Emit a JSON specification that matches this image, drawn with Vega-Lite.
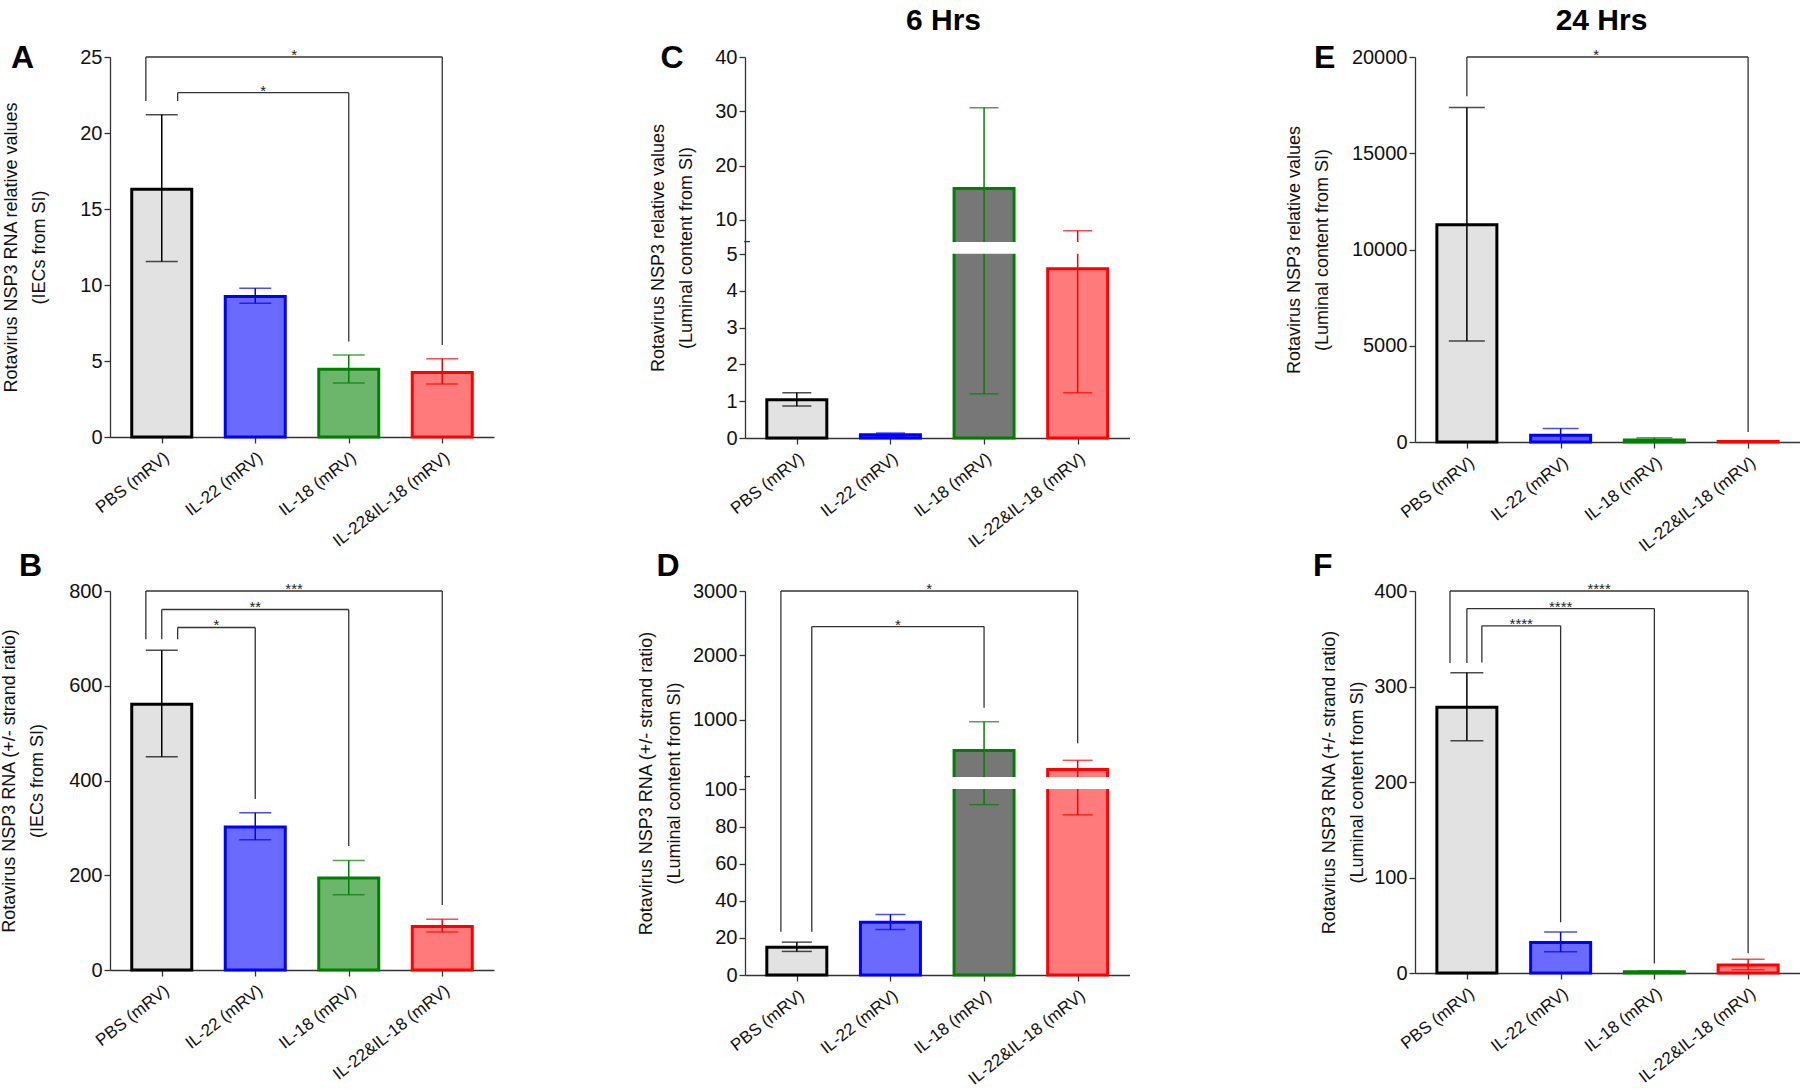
{
 "$schema": "https://vega.github.io/schema/vega-lite/v6.json",
 "background": "white",
 "padding": {"left": 0, "top": 6, "right": 0, "bottom": 5},
 "config": {
  "view": {"stroke": null},
  "font": "Liberation Sans",
  "axis": {"grid": false, "domainColor": "#333333", "tickColor": "#333333", "labelColor": "#111111", "titleColor": "#111111", "labelFont": "Liberation Sans", "titleFont": "Liberation Sans", "titleFontWeight": "normal", "titleFontSize": 18, "titleLineHeight": 28, "titleBaseline": "bottom", "labelFontSize": 20, "tickSize": 6, "domainWidth": 1.3, "tickWidth": 1.3, "labelPadding": 2, "zindex": 0, "labelOverlap": false, "labelFlush": false},
  "axisX": {"labelAngle": -38, "labelFontSize": 17, "labelPadding": 6},
  "title": {"font": "Liberation Sans", "fontWeight": "bold", "fontSize": 30, "color": "#000000"}
 },
 "datasets": {
  "bars": [
   {"panel": "A", "idx": 1, "group": "PBS (mRV)", "mean": 16.3, "lo": 11.55, "hi": 21.2},
   {"panel": "A", "idx": 2, "group": "IL-22 (mRV)", "mean": 9.25, "lo": 8.8, "hi": 9.78},
   {"panel": "A", "idx": 3, "group": "IL-18 (mRV)", "mean": 4.45, "lo": 3.55, "hi": 5.4},
   {"panel": "A", "idx": 4, "group": "IL-22&IL-18 (mRV)", "mean": 4.25, "lo": 3.48, "hi": 5.15},
   {"panel": "B", "idx": 1, "group": "PBS (mRV)", "mean": 561, "lo": 450, "hi": 675},
   {"panel": "B", "idx": 2, "group": "IL-22 (mRV)", "mean": 302, "lo": 275, "hi": 332},
   {"panel": "B", "idx": 3, "group": "IL-18 (mRV)", "mean": 194, "lo": 159, "hi": 231},
   {"panel": "B", "idx": 4, "group": "IL-22&IL-18 (mRV)", "mean": 92, "lo": 80, "hi": 107},
   {"panel": "C", "idx": 1, "group": "PBS (mRV)", "mean": 1.04, "lo": 0.87, "hi": 1.23},
   {"panel": "C", "idx": 2, "group": "IL-22 (mRV)", "mean": 0.087, "lo": 0.05, "hi": 0.135},
   {"panel": "C", "idx": 3, "group": "IL-18 (mRV)", "mean": 15.8, "lo": 1.2, "hi": 30.65},
   {"panel": "C", "idx": 4, "group": "IL-22&IL-18 (mRV)", "mean": 4.6, "lo": 1.23, "hi": 8.0},
   {"panel": "D", "idx": 1, "group": "PBS (mRV)", "mean": 14.9, "lo": 12.7, "hi": 17.7},
   {"panel": "D", "idx": 2, "group": "IL-22 (mRV)", "mean": 28.4, "lo": 24.5, "hi": 32.6},
   {"panel": "D", "idx": 3, "group": "IL-18 (mRV)", "mean": 521, "lo": 91.8, "hi": 968},
   {"panel": "D", "idx": 4, "group": "IL-22&IL-18 (mRV)", "mean": 226, "lo": 86.3, "hi": 368},
   {"panel": "E", "idx": 1, "group": "PBS (mRV)", "mean": 11280, "lo": 5250, "hi": 17380},
   {"panel": "E", "idx": 2, "group": "IL-22 (mRV)", "mean": 350, "lo": 0, "hi": 700},
   {"panel": "E", "idx": 3, "group": "IL-18 (mRV)", "mean": 100, "lo": 0, "hi": 220},
   {"panel": "E", "idx": 4, "group": "IL-22&IL-18 (mRV)", "mean": 25, "lo": 5, "hi": 45},
   {"panel": "F", "idx": 1, "group": "PBS (mRV)", "mean": 278.4, "lo": 243.3, "hi": 314.5},
   {"panel": "F", "idx": 2, "group": "IL-22 (mRV)", "mean": 31.9, "lo": 22.3, "hi": 42.9},
   {"panel": "F", "idx": 3, "group": "IL-18 (mRV)", "mean": 1.4, "lo": 0.7, "hi": 2.2},
   {"panel": "F", "idx": 4, "group": "IL-22&IL-18 (mRV)", "mean": 8.5, "lo": 3.5, "hi": 14.5}
  ],
  "brackets": [
   {"panel": "A", "left": 0.83, "right": 4, "level": 25, "yl": 22.1, "yr": 6.05, "xm": 2.415, "stars": "*"},
   {"panel": "A", "left": 1.17, "right": 3, "level": 22.65, "yl": 22.1, "yr": 6.29, "xm": 2.085, "stars": "*"},
   {"panel": "B", "left": 0.83, "right": 4, "level": 800, "yl": 698, "yr": 137, "xm": 2.415, "stars": "***"},
   {"panel": "B", "left": 1, "right": 3, "level": 761, "yl": 698, "yr": 262, "xm": 2, "stars": "**"},
   {"panel": "B", "left": 1.17, "right": 2, "level": 723, "yl": 698, "yr": 361, "xm": 1.585, "stars": "*"},
   {"panel": "D", "left": 0.83, "right": 4, "level": 3000, "yl": 23.3, "yr": 632, "xm": 2.415, "stars": "*"},
   {"panel": "D", "left": 1.16, "right": 3, "level": 2447, "yl": 23.3, "yr": 1184, "xm": 2.08, "stars": "*"},
   {"panel": "E", "left": 1, "right": 4, "level": 20000, "yl": 17960, "yr": 520, "xm": 2.38, "stars": "*"},
   {"panel": "F", "left": 0.82, "right": 4, "level": 400, "yl": 324.5, "yr": 20.6, "xm": 2.41, "stars": "****"},
   {"panel": "F", "left": 1, "right": 3, "level": 381.6, "yl": 324.5, "yr": 9.9, "xm": 2, "stars": "****"},
   {"panel": "F", "left": 1.16, "right": 2, "level": 363.5, "yl": 325, "yr": 53.2, "xm": 1.58, "stars": "****"}
  ]
 },
 "columns": 3,
 "spacing": {"row": 149, "column": 251},
 "bounds": "flush",
 "align": "each",
 "resolve": {"scale": {"x": "independent", "y": "independent", "fill": "independent", "stroke": "independent", "color": "independent"}},
 "concat": [
  {
   "width": 384, "height": 380,
   "layer": [
    {"data": {"name": "bars"}, "transform": [{"filter": "datum.panel == 'A'"}],
     "mark": {"type": "bar", "width": 60, "strokeWidth": 3, "orient": "vertical"},
     "encoding": {
      "x": {"field": "idx", "type": "quantitative", "scale": {"domain": [0.5, 4.5], "nice": false, "zero": false}, "axis": {"values": [1, 2, 3, 4], "labelExpr": "['', 'PBS (mRV)', 'IL-22 (mRV)', 'IL-18 (mRV)', 'IL-22&IL-18 (mRV)'][datum.value]", "title": null, "labelOverlap": false}},
      "y": {"field": "mean", "type": "quantitative", "scale": {"domain": [0, 25], "nice": false}, "axis": {"values": [0, 5, 10, 15, 20, 25], "format": "d", "labelOverlap": false, "title": ["Rotavirus NSP3 RNA relative values", "(IECs from SI)"], "titleX": -90}},
      "fill": {"field": "group", "type": "nominal", "scale": {"domain": ["PBS (mRV)", "IL-22 (mRV)", "IL-18 (mRV)", "IL-22&IL-18 (mRV)"], "range": ["#e2e2e2", "#6a6aff", "#6cb66c", "#ff7a7a"]}, "legend": null},
      "stroke": {"field": "group", "type": "nominal", "scale": {"domain": ["PBS (mRV)", "IL-22 (mRV)", "IL-18 (mRV)", "IL-22&IL-18 (mRV)"], "range": ["#000000", "#0000ff", "#008000", "#ff0000"]}, "legend": null}}},
    {"data": {"name": "bars"}, "transform": [{"filter": "datum.panel == 'A'"}],
     "mark": {"type": "rule", "strokeWidth": 1.5},
     "encoding": {"x": {"field": "idx", "type": "quantitative"}, "y": {"field": "lo", "type": "quantitative"}, "y2": {"field": "hi"},
      "color": {"field": "group", "type": "nominal", "scale": {"domain": ["PBS (mRV)", "IL-22 (mRV)", "IL-18 (mRV)", "IL-22&IL-18 (mRV)"], "range": ["#000000", "#0000ff", "#008000", "#ff0000"]}, "legend": null}}},
    {"data": {"name": "bars"}, "transform": [{"filter": "datum.panel == 'A'"}],
     "mark": {"type": "tick", "orient": "horizontal", "size": 32, "thickness": 1.5},
     "encoding": {"x": {"field": "idx", "type": "quantitative"}, "y": {"field": "hi", "type": "quantitative"}, "color": {"field": "group", "type": "nominal", "legend": null}}},
    {"data": {"name": "bars"}, "transform": [{"filter": "datum.panel == 'A'"}],
     "mark": {"type": "tick", "orient": "horizontal", "size": 32, "thickness": 1.5},
     "encoding": {"x": {"field": "idx", "type": "quantitative"}, "y": {"field": "lo", "type": "quantitative"}, "color": {"field": "group", "type": "nominal", "legend": null}}},
    {"data": {"name": "brackets"}, "transform": [{"filter": "datum.panel == 'A'"}],
     "mark": {"type": "rule", "color": "#333333", "strokeWidth": 1.3},
     "encoding": {"x": {"field": "left", "type": "quantitative"}, "x2": {"field": "right"}, "y": {"field": "level", "type": "quantitative"}}},
    {"data": {"name": "brackets"}, "transform": [{"filter": "datum.panel == 'A'"}],
     "mark": {"type": "rule", "color": "#333333", "strokeWidth": 1.3},
     "encoding": {"x": {"field": "left", "type": "quantitative"}, "y": {"field": "level", "type": "quantitative"}, "y2": {"field": "yl"}}},
    {"data": {"name": "brackets"}, "transform": [{"filter": "datum.panel == 'A'"}],
     "mark": {"type": "rule", "color": "#333333", "strokeWidth": 1.3},
     "encoding": {"x": {"field": "right", "type": "quantitative"}, "y": {"field": "level", "type": "quantitative"}, "y2": {"field": "yr"}}},
    {"data": {"name": "brackets"}, "transform": [{"filter": "datum.panel == 'A'"}],
     "mark": {"type": "text", "fontSize": 15, "dy": 3, "baseline": "alphabetic", "color": "#222222"},
     "encoding": {"x": {"field": "xm", "type": "quantitative"}, "y": {"field": "level", "type": "quantitative"}, "text": {"field": "stars"}}},
    {"data": {"values": [{}]},
     "mark": {"type": "text", "text": "A", "fontSize": 32, "fontWeight": "bold", "align": "left", "baseline": "alphabetic", "dx": -104, "dy": 11.4, "color": "#000000"},
     "encoding": {"x": {"datum": 0.5}, "y": {"datum": 25}}}
   ]
  },
  {
   "width": 419, "height": 381,
   "title": {"text": "6 Hrs", "anchor": "middle", "frame": "group", "dx": -11, "offset": 6},
   "layer": [
    {"data": {"name": "bars"}, "transform": [{"filter": "datum.panel == 'C'"}],
     "mark": {"type": "bar", "width": 60, "strokeWidth": 3, "orient": "vertical"},
     "encoding": {
      "x": {"field": "idx", "type": "quantitative", "scale": {"domain": [0.5, 4.5], "range": [0, 384.5], "nice": false, "zero": false}, "axis": {"values": [1, 2, 3, 4], "labelExpr": "['', 'PBS (mRV)', 'IL-22 (mRV)', 'IL-18 (mRV)', 'IL-22&IL-18 (mRV)'][datum.value]", "title": null, "labelOverlap": false}},
      "y": {"field": "mean", "type": "quantitative", "scale": {"domain": [0, 5, 6, 40], "range": [381, 197.1, 184.6, 0], "nice": false, "zero": false}, "axis": {"values": [0, 1, 2, 3, 4, 5, 10, 20, 30, 40], "format": "d", "labelOverlap": false, "title": ["Rotavirus NSP3 relative values", "(Luminal content from SI)"], "titleX": -78}},
      "fill": {"field": "group", "type": "nominal", "scale": {"domain": ["PBS (mRV)", "IL-22 (mRV)", "IL-18 (mRV)", "IL-22&IL-18 (mRV)"], "range": ["#e2e2e2", "#6a6aff", "#777777", "#ff7a7a"]}, "legend": null},
      "stroke": {"field": "group", "type": "nominal", "scale": {"domain": ["PBS (mRV)", "IL-22 (mRV)", "IL-18 (mRV)", "IL-22&IL-18 (mRV)"], "range": ["#000000", "#0000ff", "#008000", "#ff0000"]}, "legend": null}}},
    {"data": {"name": "bars"}, "transform": [{"filter": "datum.panel == 'C'"}],
     "mark": {"type": "rule", "strokeWidth": 1.5},
     "encoding": {"x": {"field": "idx", "type": "quantitative"}, "y": {"field": "lo", "type": "quantitative"}, "y2": {"field": "hi"},
      "color": {"field": "group", "type": "nominal", "scale": {"domain": ["PBS (mRV)", "IL-22 (mRV)", "IL-18 (mRV)", "IL-22&IL-18 (mRV)"], "range": ["#000000", "#0000ff", "#008000", "#ff0000"]}, "legend": null}}},
    {"data": {"name": "bars"}, "transform": [{"filter": "datum.panel == 'C'"}],
     "mark": {"type": "tick", "orient": "horizontal", "size": 29, "thickness": 1.5},
     "encoding": {"x": {"field": "idx", "type": "quantitative"}, "y": {"field": "hi", "type": "quantitative"}, "color": {"field": "group", "type": "nominal", "legend": null}}},
    {"data": {"name": "bars"}, "transform": [{"filter": "datum.panel == 'C'"}],
     "mark": {"type": "tick", "orient": "horizontal", "size": 29, "thickness": 1.5},
     "encoding": {"x": {"field": "idx", "type": "quantitative"}, "y": {"field": "lo", "type": "quantitative"}, "color": {"field": "group", "type": "nominal", "legend": null}}},
    {"data": {"values": [{}]},
     "mark": {"type": "rect", "fill": "white"},
     "encoding": {"x": {"datum": 0.47}, "x2": {"datum": 4.5}, "y": {"datum": 5.03}, "y2": {"datum": 5.97}}},
    {"data": {"values": [{}]},
     "mark": {"type": "rule", "color": "#333333", "strokeWidth": 1.3},
     "encoding": {"x": {"datum": 0.4375}, "x2": {"datum": 0.5}, "y": {"datum": 6}}},
    {"data": {"values": [{}]},
     "mark": {"type": "text", "text": "C", "fontSize": 32, "fontWeight": "bold", "align": "left", "baseline": "alphabetic", "dx": -89.5, "dy": 11.4, "color": "#000000"},
     "encoding": {"x": {"datum": 0.5}, "y": {"datum": 40}}}
   ]
  },
  {
   "width": 385, "height": 385,
   "title": {"text": "24 Hrs", "anchor": "middle", "frame": "group", "dx": -6, "offset": 6},
   "layer": [
    {"data": {"name": "bars"}, "transform": [{"filter": "datum.panel == 'E'"}],
     "mark": {"type": "bar", "width": 60, "strokeWidth": 3, "orient": "vertical"},
     "encoding": {
      "x": {"field": "idx", "type": "quantitative", "scale": {"domain": [0.5, 4.5], "nice": false, "zero": false}, "axis": {"values": [1, 2, 3, 4], "labelExpr": "['', 'PBS (mRV)', 'IL-22 (mRV)', 'IL-18 (mRV)', 'IL-22&IL-18 (mRV)'][datum.value]", "title": null, "labelOverlap": false}},
      "y": {"field": "mean", "type": "quantitative", "scale": {"domain": [0, 20000], "nice": false}, "axis": {"values": [0, 5000, 10000, 15000, 20000], "format": "d", "labelOverlap": false, "title": ["Rotavirus NSP3 relative values", "(Luminal content from SI)"], "titleX": -112}},
      "fill": {"field": "group", "type": "nominal", "scale": {"domain": ["PBS (mRV)", "IL-22 (mRV)", "IL-18 (mRV)", "IL-22&IL-18 (mRV)"], "range": ["#e2e2e2", "#5a5aff", "#40a040", "#ff6060"]}, "legend": null},
      "stroke": {"field": "group", "type": "nominal", "scale": {"domain": ["PBS (mRV)", "IL-22 (mRV)", "IL-18 (mRV)", "IL-22&IL-18 (mRV)"], "range": ["#000000", "#0000ff", "#008000", "#ff0000"]}, "legend": null}}},
    {"data": {"name": "bars"}, "transform": [{"filter": "datum.panel == 'E'"}],
     "mark": {"type": "rule", "strokeWidth": 1.5},
     "encoding": {"x": {"field": "idx", "type": "quantitative"}, "y": {"field": "lo", "type": "quantitative"}, "y2": {"field": "hi"},
      "color": {"field": "group", "type": "nominal", "scale": {"domain": ["PBS (mRV)", "IL-22 (mRV)", "IL-18 (mRV)", "IL-22&IL-18 (mRV)"], "range": ["#000000", "#0000ff", "#008000", "#ff0000"]}, "legend": null}}},
    {"data": {"name": "bars"}, "transform": [{"filter": "datum.panel == 'E'"}],
     "mark": {"type": "tick", "orient": "horizontal", "size": 36, "thickness": 1.5},
     "encoding": {"x": {"field": "idx", "type": "quantitative"}, "y": {"field": "hi", "type": "quantitative"}, "color": {"field": "group", "type": "nominal", "legend": null}}},
    {"data": {"name": "bars"}, "transform": [{"filter": "datum.panel == 'E'"}],
     "mark": {"type": "tick", "orient": "horizontal", "size": 36, "thickness": 1.5},
     "encoding": {"x": {"field": "idx", "type": "quantitative"}, "y": {"field": "lo", "type": "quantitative"}, "color": {"field": "group", "type": "nominal", "legend": null}}},
    {"data": {"name": "brackets"}, "transform": [{"filter": "datum.panel == 'E'"}],
     "mark": {"type": "rule", "color": "#333333", "strokeWidth": 1.3},
     "encoding": {"x": {"field": "left", "type": "quantitative"}, "x2": {"field": "right"}, "y": {"field": "level", "type": "quantitative"}}},
    {"data": {"name": "brackets"}, "transform": [{"filter": "datum.panel == 'E'"}],
     "mark": {"type": "rule", "color": "#333333", "strokeWidth": 1.3},
     "encoding": {"x": {"field": "left", "type": "quantitative"}, "y": {"field": "level", "type": "quantitative"}, "y2": {"field": "yl"}}},
    {"data": {"name": "brackets"}, "transform": [{"filter": "datum.panel == 'E'"}],
     "mark": {"type": "rule", "color": "#333333", "strokeWidth": 1.3},
     "encoding": {"x": {"field": "right", "type": "quantitative"}, "y": {"field": "level", "type": "quantitative"}, "y2": {"field": "yr"}}},
    {"data": {"name": "brackets"}, "transform": [{"filter": "datum.panel == 'E'"}],
     "mark": {"type": "text", "fontSize": 15, "dy": 3, "baseline": "alphabetic", "color": "#222222"},
     "encoding": {"x": {"field": "xm", "type": "quantitative"}, "y": {"field": "level", "type": "quantitative"}, "text": {"field": "stars"}}},
    {"data": {"values": [{}]},
     "mark": {"type": "text", "text": "E", "fontSize": 32, "fontWeight": "bold", "align": "left", "baseline": "alphabetic", "dx": -106, "dy": 11.4, "color": "#000000"},
     "encoding": {"x": {"datum": 0.5}, "y": {"datum": 20000}}}
   ]
  },
  {
   "width": 384, "height": 379,
   "layer": [
    {"data": {"name": "bars"}, "transform": [{"filter": "datum.panel == 'B'"}],
     "mark": {"type": "bar", "width": 60, "strokeWidth": 3, "orient": "vertical"},
     "encoding": {
      "x": {"field": "idx", "type": "quantitative", "scale": {"domain": [0.5, 4.5], "nice": false, "zero": false}, "axis": {"values": [1, 2, 3, 4], "labelExpr": "['', 'PBS (mRV)', 'IL-22 (mRV)', 'IL-18 (mRV)', 'IL-22&IL-18 (mRV)'][datum.value]", "title": null, "labelOverlap": false}},
      "y": {"field": "mean", "type": "quantitative", "scale": {"domain": [0, 800], "nice": false}, "axis": {"values": [0, 200, 400, 600, 800], "format": "d", "labelOverlap": false, "title": ["Rotavirus NSP3 RNA (+/- strand ratio)", "(IECs from SI)"], "titleX": -91.5}},
      "fill": {"field": "group", "type": "nominal", "scale": {"domain": ["PBS (mRV)", "IL-22 (mRV)", "IL-18 (mRV)", "IL-22&IL-18 (mRV)"], "range": ["#e2e2e2", "#6a6aff", "#6cb66c", "#ff7a7a"]}, "legend": null},
      "stroke": {"field": "group", "type": "nominal", "scale": {"domain": ["PBS (mRV)", "IL-22 (mRV)", "IL-18 (mRV)", "IL-22&IL-18 (mRV)"], "range": ["#000000", "#0000ff", "#008000", "#ff0000"]}, "legend": null}}},
    {"data": {"name": "bars"}, "transform": [{"filter": "datum.panel == 'B'"}],
     "mark": {"type": "rule", "strokeWidth": 1.5},
     "encoding": {"x": {"field": "idx", "type": "quantitative"}, "y": {"field": "lo", "type": "quantitative"}, "y2": {"field": "hi"},
      "color": {"field": "group", "type": "nominal", "scale": {"domain": ["PBS (mRV)", "IL-22 (mRV)", "IL-18 (mRV)", "IL-22&IL-18 (mRV)"], "range": ["#000000", "#0000ff", "#008000", "#ff0000"]}, "legend": null}}},
    {"data": {"name": "bars"}, "transform": [{"filter": "datum.panel == 'B'"}],
     "mark": {"type": "tick", "orient": "horizontal", "size": 32, "thickness": 1.5},
     "encoding": {"x": {"field": "idx", "type": "quantitative"}, "y": {"field": "hi", "type": "quantitative"}, "color": {"field": "group", "type": "nominal", "legend": null}}},
    {"data": {"name": "bars"}, "transform": [{"filter": "datum.panel == 'B'"}],
     "mark": {"type": "tick", "orient": "horizontal", "size": 32, "thickness": 1.5},
     "encoding": {"x": {"field": "idx", "type": "quantitative"}, "y": {"field": "lo", "type": "quantitative"}, "color": {"field": "group", "type": "nominal", "legend": null}}},
    {"data": {"name": "brackets"}, "transform": [{"filter": "datum.panel == 'B'"}],
     "mark": {"type": "rule", "color": "#333333", "strokeWidth": 1.3},
     "encoding": {"x": {"field": "left", "type": "quantitative"}, "x2": {"field": "right"}, "y": {"field": "level", "type": "quantitative"}}},
    {"data": {"name": "brackets"}, "transform": [{"filter": "datum.panel == 'B'"}],
     "mark": {"type": "rule", "color": "#333333", "strokeWidth": 1.3},
     "encoding": {"x": {"field": "left", "type": "quantitative"}, "y": {"field": "level", "type": "quantitative"}, "y2": {"field": "yl"}}},
    {"data": {"name": "brackets"}, "transform": [{"filter": "datum.panel == 'B'"}],
     "mark": {"type": "rule", "color": "#333333", "strokeWidth": 1.3},
     "encoding": {"x": {"field": "right", "type": "quantitative"}, "y": {"field": "level", "type": "quantitative"}, "y2": {"field": "yr"}}},
    {"data": {"name": "brackets"}, "transform": [{"filter": "datum.panel == 'B'"}],
     "mark": {"type": "text", "fontSize": 15, "dy": 3, "baseline": "alphabetic", "color": "#222222"},
     "encoding": {"x": {"field": "xm", "type": "quantitative"}, "y": {"field": "level", "type": "quantitative"}, "text": {"field": "stars"}}},
    {"data": {"values": [{}]},
     "mark": {"type": "text", "text": "B", "fontSize": 32, "fontWeight": "bold", "align": "left", "baseline": "alphabetic", "dx": -96, "dy": -15.5, "color": "#000000"},
     "encoding": {"x": {"datum": 0.5}, "y": {"datum": 800}}}
   ]
  },
  {
   "width": 419, "height": 384,
   "layer": [
    {"data": {"name": "bars"}, "transform": [{"filter": "datum.panel == 'D'"}],
     "mark": {"type": "bar", "width": 60, "strokeWidth": 3, "orient": "vertical"},
     "encoding": {
      "x": {"field": "idx", "type": "quantitative", "scale": {"domain": [0.5, 4.5], "range": [0, 384.5], "nice": false, "zero": false}, "axis": {"values": [1, 2, 3, 4], "labelExpr": "['', 'PBS (mRV)', 'IL-22 (mRV)', 'IL-18 (mRV)', 'IL-22&IL-18 (mRV)'][datum.value]", "title": null, "labelOverlap": false}},
      "y": {"field": "mean", "type": "quantitative", "scale": {"domain": [0, 100, 115, 3000], "range": [384, 198.4, 185.6, 0], "nice": false, "zero": false}, "axis": {"values": [0, 20, 40, 60, 80, 100, 1000, 2000, 3000], "format": "d", "labelOverlap": false, "title": ["Rotavirus NSP3 RNA (+/- strand ratio)", "(Luminal content from SI)"], "titleX": -89.5}},
      "fill": {"field": "group", "type": "nominal", "scale": {"domain": ["PBS (mRV)", "IL-22 (mRV)", "IL-18 (mRV)", "IL-22&IL-18 (mRV)"], "range": ["#e2e2e2", "#6a6aff", "#777777", "#ff7a7a"]}, "legend": null},
      "stroke": {"field": "group", "type": "nominal", "scale": {"domain": ["PBS (mRV)", "IL-22 (mRV)", "IL-18 (mRV)", "IL-22&IL-18 (mRV)"], "range": ["#000000", "#0000ff", "#008000", "#ff0000"]}, "legend": null}}},
    {"data": {"name": "bars"}, "transform": [{"filter": "datum.panel == 'D'"}],
     "mark": {"type": "rule", "strokeWidth": 1.5},
     "encoding": {"x": {"field": "idx", "type": "quantitative"}, "y": {"field": "lo", "type": "quantitative"}, "y2": {"field": "hi"},
      "color": {"field": "group", "type": "nominal", "scale": {"domain": ["PBS (mRV)", "IL-22 (mRV)", "IL-18 (mRV)", "IL-22&IL-18 (mRV)"], "range": ["#000000", "#0000ff", "#008000", "#ff0000"]}, "legend": null}}},
    {"data": {"name": "bars"}, "transform": [{"filter": "datum.panel == 'D'"}],
     "mark": {"type": "tick", "orient": "horizontal", "size": 30, "thickness": 1.5},
     "encoding": {"x": {"field": "idx", "type": "quantitative"}, "y": {"field": "hi", "type": "quantitative"}, "color": {"field": "group", "type": "nominal", "legend": null}}},
    {"data": {"name": "bars"}, "transform": [{"filter": "datum.panel == 'D'"}],
     "mark": {"type": "tick", "orient": "horizontal", "size": 30, "thickness": 1.5},
     "encoding": {"x": {"field": "idx", "type": "quantitative"}, "y": {"field": "lo", "type": "quantitative"}, "color": {"field": "group", "type": "nominal", "legend": null}}},
    {"data": {"values": [{}]},
     "mark": {"type": "rect", "fill": "white"},
     "encoding": {"x": {"datum": 0.47}, "x2": {"datum": 4.5}, "y": {"datum": 100.6}, "y2": {"datum": 114.4}}},
    {"data": {"values": [{}]},
     "mark": {"type": "rule", "color": "#333333", "strokeWidth": 1.3},
     "encoding": {"x": {"datum": 0.4375}, "x2": {"datum": 0.5}, "y": {"datum": 115}}},
    {"data": {"name": "brackets"}, "transform": [{"filter": "datum.panel == 'D'"}],
     "mark": {"type": "rule", "color": "#333333", "strokeWidth": 1.3},
     "encoding": {"x": {"field": "left", "type": "quantitative"}, "x2": {"field": "right"}, "y": {"field": "level", "type": "quantitative"}}},
    {"data": {"name": "brackets"}, "transform": [{"filter": "datum.panel == 'D'"}],
     "mark": {"type": "rule", "color": "#333333", "strokeWidth": 1.3},
     "encoding": {"x": {"field": "left", "type": "quantitative"}, "y": {"field": "level", "type": "quantitative"}, "y2": {"field": "yl"}}},
    {"data": {"name": "brackets"}, "transform": [{"filter": "datum.panel == 'D'"}],
     "mark": {"type": "rule", "color": "#333333", "strokeWidth": 1.3},
     "encoding": {"x": {"field": "right", "type": "quantitative"}, "y": {"field": "level", "type": "quantitative"}, "y2": {"field": "yr"}}},
    {"data": {"name": "brackets"}, "transform": [{"filter": "datum.panel == 'D'"}],
     "mark": {"type": "text", "fontSize": 15, "dy": 3, "baseline": "alphabetic", "color": "#222222"},
     "encoding": {"x": {"field": "xm", "type": "quantitative"}, "y": {"field": "level", "type": "quantitative"}, "text": {"field": "stars"}}},
    {"data": {"values": [{}]},
     "mark": {"type": "text", "text": "D", "fontSize": 32, "fontWeight": "bold", "align": "left", "baseline": "alphabetic", "dx": -93.5, "dy": -15.5, "color": "#000000"},
     "encoding": {"x": {"datum": 0.5}, "y": {"datum": 3000}}}
   ]
  },
  {
   "width": 385, "height": 382,
   "layer": [
    {"data": {"name": "bars"}, "transform": [{"filter": "datum.panel == 'F'"}],
     "mark": {"type": "bar", "width": 60, "strokeWidth": 3, "orient": "vertical"},
     "encoding": {
      "x": {"field": "idx", "type": "quantitative", "scale": {"domain": [0.5, 4.5], "nice": false, "zero": false}, "axis": {"values": [1, 2, 3, 4], "labelExpr": "['', 'PBS (mRV)', 'IL-22 (mRV)', 'IL-18 (mRV)', 'IL-22&IL-18 (mRV)'][datum.value]", "title": null, "labelOverlap": false}},
      "y": {"field": "mean", "type": "quantitative", "scale": {"domain": [0, 400], "nice": false}, "axis": {"values": [0, 100, 200, 300, 400], "format": "d", "labelOverlap": false, "title": ["Rotavirus NSP3 RNA (+/- strand ratio)", "(Luminal content from SI)"], "titleX": -76.5}},
      "fill": {"field": "group", "type": "nominal", "scale": {"domain": ["PBS (mRV)", "IL-22 (mRV)", "IL-18 (mRV)", "IL-22&IL-18 (mRV)"], "range": ["#e2e2e2", "#6a6aff", "#40a040", "#ff7a7a"]}, "legend": null},
      "stroke": {"field": "group", "type": "nominal", "scale": {"domain": ["PBS (mRV)", "IL-22 (mRV)", "IL-18 (mRV)", "IL-22&IL-18 (mRV)"], "range": ["#000000", "#0000ff", "#008000", "#ff0000"]}, "legend": null}}},
    {"data": {"name": "bars"}, "transform": [{"filter": "datum.panel == 'F'"}],
     "mark": {"type": "rule", "strokeWidth": 1.5},
     "encoding": {"x": {"field": "idx", "type": "quantitative"}, "y": {"field": "lo", "type": "quantitative"}, "y2": {"field": "hi"},
      "color": {"field": "group", "type": "nominal", "scale": {"domain": ["PBS (mRV)", "IL-22 (mRV)", "IL-18 (mRV)", "IL-22&IL-18 (mRV)"], "range": ["#000000", "#0000ff", "#008000", "#ff0000"]}, "legend": null}}},
    {"data": {"name": "bars"}, "transform": [{"filter": "datum.panel == 'F'"}],
     "mark": {"type": "tick", "orient": "horizontal", "size": 33, "thickness": 1.5},
     "encoding": {"x": {"field": "idx", "type": "quantitative"}, "y": {"field": "hi", "type": "quantitative"}, "color": {"field": "group", "type": "nominal", "legend": null}}},
    {"data": {"name": "bars"}, "transform": [{"filter": "datum.panel == 'F'"}],
     "mark": {"type": "tick", "orient": "horizontal", "size": 33, "thickness": 1.5},
     "encoding": {"x": {"field": "idx", "type": "quantitative"}, "y": {"field": "lo", "type": "quantitative"}, "color": {"field": "group", "type": "nominal", "legend": null}}},
    {"data": {"name": "brackets"}, "transform": [{"filter": "datum.panel == 'F'"}],
     "mark": {"type": "rule", "color": "#333333", "strokeWidth": 1.3},
     "encoding": {"x": {"field": "left", "type": "quantitative"}, "x2": {"field": "right"}, "y": {"field": "level", "type": "quantitative"}}},
    {"data": {"name": "brackets"}, "transform": [{"filter": "datum.panel == 'F'"}],
     "mark": {"type": "rule", "color": "#333333", "strokeWidth": 1.3},
     "encoding": {"x": {"field": "left", "type": "quantitative"}, "y": {"field": "level", "type": "quantitative"}, "y2": {"field": "yl"}}},
    {"data": {"name": "brackets"}, "transform": [{"filter": "datum.panel == 'F'"}],
     "mark": {"type": "rule", "color": "#333333", "strokeWidth": 1.3},
     "encoding": {"x": {"field": "right", "type": "quantitative"}, "y": {"field": "level", "type": "quantitative"}, "y2": {"field": "yr"}}},
    {"data": {"name": "brackets"}, "transform": [{"filter": "datum.panel == 'F'"}],
     "mark": {"type": "text", "fontSize": 15, "dy": 3, "baseline": "alphabetic", "color": "#222222"},
     "encoding": {"x": {"field": "xm", "type": "quantitative"}, "y": {"field": "level", "type": "quantitative"}, "text": {"field": "stars"}}},
    {"data": {"values": [{}]},
     "mark": {"type": "text", "text": "F", "fontSize": 32, "fontWeight": "bold", "align": "left", "baseline": "alphabetic", "dx": -107, "dy": -15.5, "color": "#000000"},
     "encoding": {"x": {"datum": 0.5}, "y": {"datum": 400}}}
   ]
  }
 ]
}
